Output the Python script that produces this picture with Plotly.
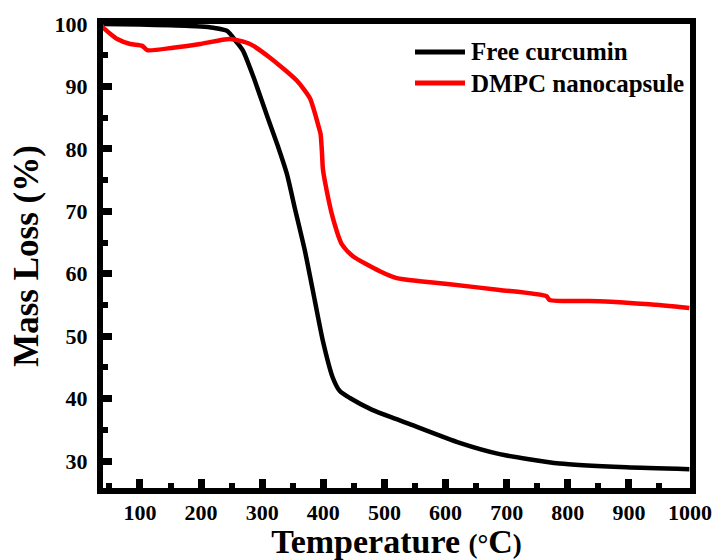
import plotly.graph_objects as go

# TGA traces: temperature (°C) vs remaining mass (%)
free_temp = [35, 100, 150, 200, 220, 242.6, 258.9, 268.7, 285, 307.9, 325, 340.6, 353.6,
             370, 386.3, 399.4, 415.7, 427, 443.5, 480, 520, 541.5, 623, 688.5,
             786.5, 896, 999]
free_mass = [100, 99.9, 99.8, 99.6, 99.4, 98.9, 97.0, 95.7, 91.7, 85.3, 80.6, 75.9, 70.4,
             63.6, 55.6, 49.2, 43.3, 41.2, 40.1, 38.2, 36.7, 35.9, 32.9, 31.1,
             29.6, 29.0, 28.7]

dmpc_temp = [35, 40, 62.9, 84.1, 103.7, 111.9, 154.4, 198.5, 247.5, 280, 312.8,
             356.9, 378.1, 392.8, 395.5, 397.7, 399.3, 402.6, 415.7, 430.4, 448.4,
             492.5, 520.3, 557.9, 606.9, 688.5, 765.3, 770.2, 851.9, 933.6, 999]
dmpc_mass = [100, 99.4, 97.6, 96.8, 96.5, 95.8, 96.2, 96.8, 97.6, 96.8, 94.6,
             90.9, 88.1, 83.4, 82.4, 79.6, 76.8, 74.8, 68.9, 64.7, 62.8,
             60.4, 59.3, 58.8, 58.3, 57.4, 56.4, 55.8, 55.6, 55.1, 54.5]

series_names = ["Free curcumin", "DMPC nanocapsule"]
series_colors = ["black", "#ff0000"]

x_ticks = list(range(100, 1001, 100))
y_ticks = list(range(30, 101, 10))

FONT = "Liberation Serif"

fig = go.Figure()
for name, color, xs, ys in zip(series_names, series_colors,
                               [free_temp, dmpc_temp], [free_mass, dmpc_mass]):
    fig.add_trace(go.Scatter(x=xs, y=ys, mode="lines", name=name, showlegend=False,
                             line=dict(color=color, width=4.5, shape="spline", smoothing=0.6)))

axis_common = dict(
    showline=True, linewidth=6, linecolor="black", mirror=True,
    showgrid=False, zeroline=False, automargin=False,
    ticks="inside", ticklen=9, tickwidth=7, tickcolor="black",
    tickfont=dict(family=FONT, size=22, color="black", weight="bold"),
)

fig.update_xaxes(
    range=[39.5, 1000], tickvals=x_ticks, ticklabelstandoff=0,
    minor=dict(ticks="inside", ticklen=5, tickwidth=6, tickcolor="black", dtick=50, tick0=0),
    title=dict(text="Temperature <span style='font-size:27px'>(°</span>C<span style='font-size:27px'>)</span>",
               font=dict(family=FONT, size=34, color="black", weight="bold"), standoff=12),
    **axis_common,
)
fig.update_yaxes(
    range=[25.68, 100], tickvals=y_ticks, ticklabelstandoff=5,
    minor=dict(ticks="inside", ticklen=5, tickwidth=6, tickcolor="black", dtick=5, tick0=0),
    title=dict(text="Mass Loss (%)",
               font=dict(family=FONT, size=35, color="black", weight="bold"), standoff=7),
    **axis_common,
)

# Legend drawn as short line swatches with labels in the upper right
L, R, T, B = 103, 690, 24, 488
pw, ph = R - L, B - T
legend_rows = [52, 83]
for name, color, row in zip(series_names, series_colors, legend_rows):
    yp = (B - row) / ph
    fig.add_shape(type="line", xref="paper", yref="paper",
                  x0=(415 - L) / pw, x1=(465 - L) / pw, y0=yp, y1=yp,
                  line=dict(color=color, width=5))
    fig.add_annotation(xref="paper", yref="paper", x=(469 - L) / pw, y=yp,
                       xanchor="left", yanchor="middle", showarrow=False, text=name,
                       font=dict(family=FONT, size=25, color="black", weight="bold"))

fig.update_layout(
    width=721, height=560,
    margin=dict(l=L, r=721 - R, t=T, b=560 - B),
    paper_bgcolor="white", plot_bgcolor="white",
    showlegend=False,
)

fig.write_html("out.html")
